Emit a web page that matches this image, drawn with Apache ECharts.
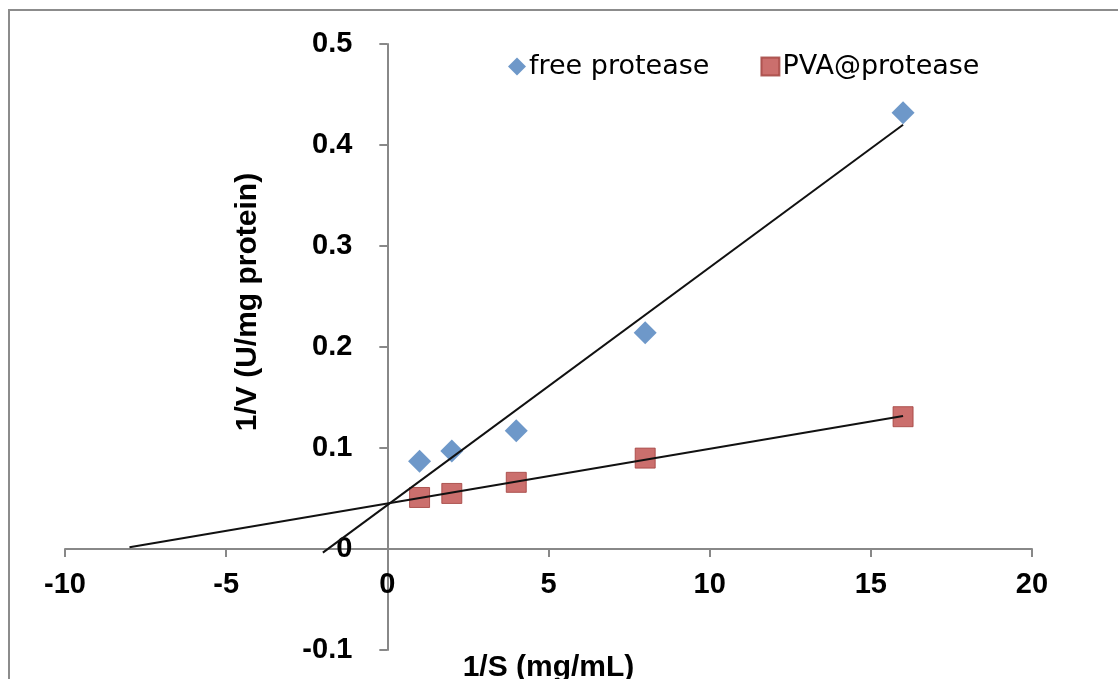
<!DOCTYPE html>
<html>
<head>
<meta charset="utf-8">
<title>Lineweaver-Burk plot</title>
<script src="https://cdn.jsdelivr.net/npm/echarts@6/dist/echarts.min.js"></script>
<style>
  html, body { margin: 0; padding: 0; background: #fff; }
  #chart { width: 1118px; height: 679px; }
</style>
</head>
<body>
<div id="chart"></div>
<script>
// 1/S values (x) shared by both series
const invS = [1, 2, 4, 8, 16]
// 1/V values
const freeProtease = [0.087, 0.097, 0.117, 0.214, 0.432]
const pvaProtease = [0.051, 0.055, 0.066, 0.090, 0.131]
// trendline x-range (backward forecast to these x, end at last point)
const freeTrendRange = [-2, 16]
const pvaTrendRange = [-8, 16]

const xTicks = { min: -10, max: 20, interval: 5 }
const yTicks = { min: -0.1, max: 0.5, interval: 0.1 }

const font = '"Liberation Sans", Arial, sans-serif'
const grid = { left: 65, right: 86, top: 44, bottom: 29 }
const W = 1118
const H = 679

// axes cross at zero: shift them in from the grid edges
const plotW = W - grid.left - grid.right
const plotH = H - grid.top - grid.bottom
const yAxisOffset = -plotW * (0 - xTicks.min) / (xTicks.max - xTicks.min)
const xAxisOffset = -plotH * (0 - yTicks.min) / (yTicks.max - yTicks.min)

// least-squares fit, like an Excel linear trendline
function fitLine(xs, ys, range) {
  const n = xs.length
  const mx = xs.reduce((a, b) => a + b, 0) / n
  const my = ys.reduce((a, b) => a + b, 0) / n
  let sxy = 0
  let sxx = 0
  for (let i = 0; i < n; i++) {
    sxy += (xs[i] - mx) * (ys[i] - my)
    sxx += (xs[i] - mx) * (xs[i] - mx)
  }
  const k = sxy / sxx
  const b = my - k * mx
  return range.map(x => [x, k * x + b])
}

const chart = echarts.init(document.getElementById('chart'))

chart.setOption({
  animation: false,
  backgroundColor: '#fff',
  textStyle: { fontFamily: font },
  graphic: [
    {
      type: 'rect',
      shape: { x: 9, y: 10, width: 1130, height: 700 },
      style: { fill: 'none', stroke: '#8c8c8c', lineWidth: 2 },
      silent: true
    },
    {
      type: 'text',
      x: 248,
      y: 302,
      rotation: Math.PI / 2,
      style: {
        text: '1/V (U/mg protein)',
        font: 'bold 30px ' + font,
        fill: '#000',
        align: 'center',
        verticalAlign: 'middle'
      }
    }
  ],
  legend: {
    left: 503,
    top: 48,
    itemWidth: 18,
    itemHeight: 18,
    itemGap: 51,
    textStyle: { fontSize: 27, color: '#000', fontFamily: '"DejaVu Sans", sans-serif', padding: [0, 0, 0, -2] },
    data: [
      { name: 'free protease', icon: 'path://M0,9L9,0L18,9L9,18Z' },
      { name: 'PVA@protease', icon: 'rect' }
    ]
  },
  grid: {
    left: grid.left,
    right: grid.right,
    top: grid.top,
    bottom: grid.bottom,
    outerBoundsMode: 'none',
    containLabel: false
  },
  xAxis: {
    type: 'value',
    position: 'bottom',
    offset: xAxisOffset,
    min: xTicks.min,
    max: xTicks.max,
    interval: xTicks.interval,
    name: '1/S (mg/mL)',
    nameLocation: 'middle',
    nameGap: 104,
    nameTextStyle: { fontSize: 30, fontWeight: 'bold', color: '#000', fontFamily: font },
    axisLine: { onZero: false, lineStyle: { color: '#888', width: 2 } },
    axisTick: { show: true, inside: false, length: 8, lineStyle: { color: '#888', width: 2 } },
    axisLabel: { fontSize: 29, fontWeight: 'bold', color: '#000', margin: 21, fontFamily: font },
    splitLine: { show: false }
  },
  yAxis: {
    type: 'value',
    position: 'left',
    offset: yAxisOffset,
    min: yTicks.min,
    max: yTicks.max,
    interval: yTicks.interval,
    axisLine: { onZero: false, lineStyle: { color: '#888', width: 2 } },
    axisTick: { show: true, inside: false, length: 8, lineStyle: { color: '#888', width: 2 } },
    axisLabel: {
      fontSize: 29,
      fontWeight: 'bold',
      color: '#000',
      margin: 35,
      fontFamily: font,
      formatter(v) {
        return String(Math.round(v * 10) / 10)
      }
    },
    splitLine: { show: false }
  },
  series: [
    {
      name: 'free protease',
      type: 'scatter',
      symbol: 'diamond',
      symbolSize: 23,
      itemStyle: { color: '#4A7EBB' },
      data: invS.map((x, i) => [x, freeProtease[i]]),
      z: 2
    },
    {
      name: 'PVA@protease',
      type: 'scatter',
      symbol: 'rect',
      symbolSize: 20,
      itemStyle: { color: '#BE4B48', borderColor: '#a03e3b', borderWidth: 1 },
      data: invS.map((x, i) => [x, pvaProtease[i]]),
      z: 2
    },
    {
      name: 'free trend',
      type: 'line',
      symbol: 'none',
      lineStyle: { color: '#111', width: 2 },
      data: fitLine(invS, freeProtease, freeTrendRange),
      z: 3,
      silent: true
    },
    {
      name: 'pva trend',
      type: 'line',
      symbol: 'none',
      lineStyle: { color: '#111', width: 2 },
      data: fitLine(invS, pvaProtease, pvaTrendRange),
      z: 3,
      silent: true
    }
  ]
})
</script>
</body>
</html>
